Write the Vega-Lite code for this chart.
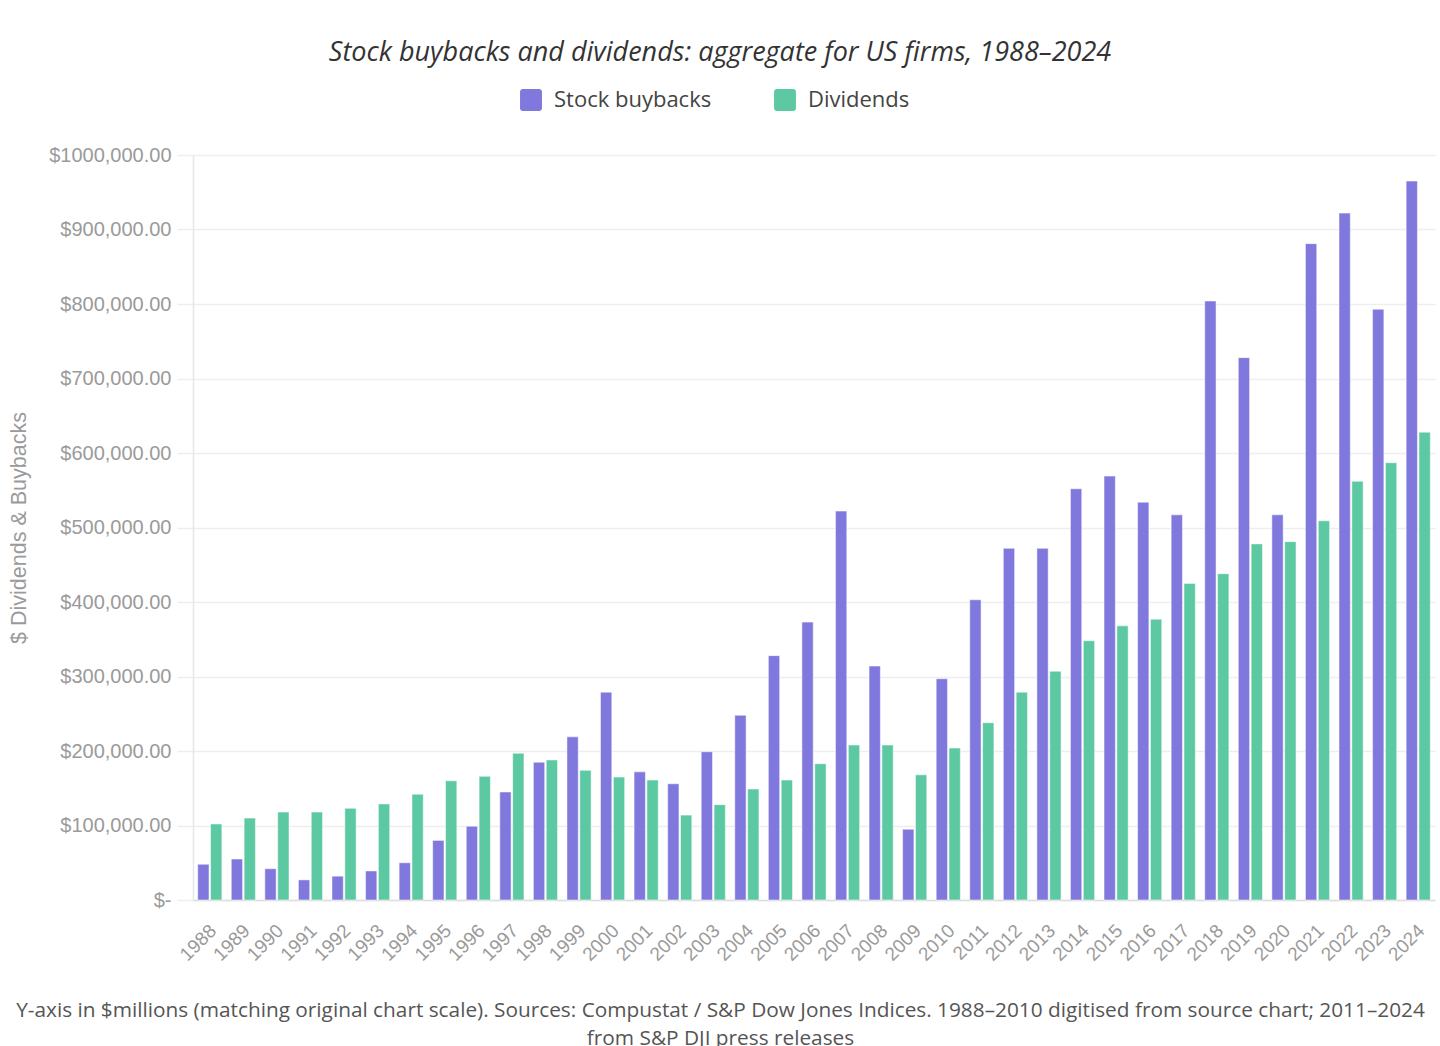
{
  "$schema": "https://vega.github.io/schema/vega-lite/v6.json",
  "description": "Stock buybacks and dividends, aggregate for US firms 1988-2024",
  "autosize": {"type": "none"},
  "width": 1242,
  "height": 745,
  "padding": {"left": 193, "top": 155, "right": 5, "bottom": 146},
  "background": "#ffffff",
  "config": {"view": {"stroke": null}},
  "title": {
    "text": "Stock buybacks and dividends: aggregate for US firms, 1988–2024",
    "font": "Open Sans",
    "fontSize": 27,
    "fontStyle": "italic",
    "fontWeight": "normal",
    "color": "#333333",
    "anchor": "middle",
    "frame": "group",
    "dx": -94,
    "offset": 22
  },
  "data": {
    "values": [
      {"year": "1988", "series": "Stock buybacks", "value": 48000},
      {"year": "1988", "series": "Dividends", "value": 102000},
      {"year": "1989", "series": "Stock buybacks", "value": 55000},
      {"year": "1989", "series": "Dividends", "value": 110000},
      {"year": "1990", "series": "Stock buybacks", "value": 42000},
      {"year": "1990", "series": "Dividends", "value": 118000},
      {"year": "1991", "series": "Stock buybacks", "value": 27000},
      {"year": "1991", "series": "Dividends", "value": 118000},
      {"year": "1992", "series": "Stock buybacks", "value": 32000},
      {"year": "1992", "series": "Dividends", "value": 123000},
      {"year": "1993", "series": "Stock buybacks", "value": 39000},
      {"year": "1993", "series": "Dividends", "value": 129000},
      {"year": "1994", "series": "Stock buybacks", "value": 50000},
      {"year": "1994", "series": "Dividends", "value": 142000},
      {"year": "1995", "series": "Stock buybacks", "value": 80000},
      {"year": "1995", "series": "Dividends", "value": 160000},
      {"year": "1996", "series": "Stock buybacks", "value": 99000},
      {"year": "1996", "series": "Dividends", "value": 166000},
      {"year": "1997", "series": "Stock buybacks", "value": 145000},
      {"year": "1997", "series": "Dividends", "value": 197000},
      {"year": "1998", "series": "Stock buybacks", "value": 185000},
      {"year": "1998", "series": "Dividends", "value": 188000},
      {"year": "1999", "series": "Stock buybacks", "value": 219000},
      {"year": "1999", "series": "Dividends", "value": 174000},
      {"year": "2000", "series": "Stock buybacks", "value": 279000},
      {"year": "2000", "series": "Dividends", "value": 165000},
      {"year": "2001", "series": "Stock buybacks", "value": 172000},
      {"year": "2001", "series": "Dividends", "value": 161000},
      {"year": "2002", "series": "Stock buybacks", "value": 156000},
      {"year": "2002", "series": "Dividends", "value": 114000},
      {"year": "2003", "series": "Stock buybacks", "value": 199000},
      {"year": "2003", "series": "Dividends", "value": 128000},
      {"year": "2004", "series": "Stock buybacks", "value": 248000},
      {"year": "2004", "series": "Dividends", "value": 149000},
      {"year": "2005", "series": "Stock buybacks", "value": 328000},
      {"year": "2005", "series": "Dividends", "value": 161000},
      {"year": "2006", "series": "Stock buybacks", "value": 373000},
      {"year": "2006", "series": "Dividends", "value": 183000},
      {"year": "2007", "series": "Stock buybacks", "value": 522000},
      {"year": "2007", "series": "Dividends", "value": 208000},
      {"year": "2008", "series": "Stock buybacks", "value": 314000},
      {"year": "2008", "series": "Dividends", "value": 208000},
      {"year": "2009", "series": "Stock buybacks", "value": 95000},
      {"year": "2009", "series": "Dividends", "value": 168000},
      {"year": "2010", "series": "Stock buybacks", "value": 297000},
      {"year": "2010", "series": "Dividends", "value": 204000},
      {"year": "2011", "series": "Stock buybacks", "value": 403000},
      {"year": "2011", "series": "Dividends", "value": 238000},
      {"year": "2012", "series": "Stock buybacks", "value": 472000},
      {"year": "2012", "series": "Dividends", "value": 279000},
      {"year": "2013", "series": "Stock buybacks", "value": 472000},
      {"year": "2013", "series": "Dividends", "value": 307000},
      {"year": "2014", "series": "Stock buybacks", "value": 552000},
      {"year": "2014", "series": "Dividends", "value": 348000},
      {"year": "2015", "series": "Stock buybacks", "value": 569000},
      {"year": "2015", "series": "Dividends", "value": 368000},
      {"year": "2016", "series": "Stock buybacks", "value": 534000},
      {"year": "2016", "series": "Dividends", "value": 377000},
      {"year": "2017", "series": "Stock buybacks", "value": 517000},
      {"year": "2017", "series": "Dividends", "value": 425000},
      {"year": "2018", "series": "Stock buybacks", "value": 804000},
      {"year": "2018", "series": "Dividends", "value": 438000},
      {"year": "2019", "series": "Stock buybacks", "value": 728000},
      {"year": "2019", "series": "Dividends", "value": 478000},
      {"year": "2020", "series": "Stock buybacks", "value": 517000},
      {"year": "2020", "series": "Dividends", "value": 481000},
      {"year": "2021", "series": "Stock buybacks", "value": 881000},
      {"year": "2021", "series": "Dividends", "value": 509000},
      {"year": "2022", "series": "Stock buybacks", "value": 922000},
      {"year": "2022", "series": "Dividends", "value": 562000},
      {"year": "2023", "series": "Stock buybacks", "value": 793000},
      {"year": "2023", "series": "Dividends", "value": 587000},
      {"year": "2024", "series": "Stock buybacks", "value": 965000},
      {"year": "2024", "series": "Dividends", "value": 628000}
    ]
  },
  "mark": {
    "type": "bar",
    "stroke": "#ffffff",
    "strokeOpacity": 0.5,
    "strokeWidth": 1
  },
  "encoding": {
    "x": {
      "field": "year",
      "type": "ordinal",
      "scale": {"paddingInner": 0.28, "paddingOuter": 0.14},
      "axis": {
        "labelAngle": -45,
        "labelFont": "Liberation Sans",
        "labelFontSize": 19,
        "labelColor": "#9a9a9a",
        "labelPadding": 21,
        "labelOffset": -3,
        "ticks": false,
        "domainColor": "#dddddd",
        "domainWidth": 1.5,
        "title": [
          "Y-axis in $millions (matching original chart scale). Sources: Compustat / S&P Dow Jones Indices. 1988–2010 digitised from source chart; 2011–2024",
          "from S&P DJI press releases"
        ],
        "titleFont": "Open Sans",
        "titleFontSize": 20.8,
        "titleFontWeight": "normal",
        "titleColor": "#555555",
        "titleAnchor": null,
        "titleAlign": "center",
        "titleBaseline": "top",
        "titleX": 527,
        "titleY": 100,
        "titleLineHeight": 28
      }
    },
    "xOffset": {
      "field": "series",
      "type": "nominal",
      "sort": ["Stock buybacks", "Dividends"],
      "scale": {"paddingInner": 0.12}
    },
    "y": {
      "field": "value",
      "type": "quantitative",
      "scale": {"domain": [0, 1000000]},
      "axis": {
        "values": [0, 100000, 200000, 300000, 400000, 500000, 600000, 700000, 800000, 900000, 1000000],
        "labelExpr": "datum.value == 0 ? '$-' : datum.value == 1000000 ? '$1000,000.00' : '$' + format(datum.value, ',.2f')",
        "labelFont": "Liberation Sans",
        "labelFontSize": 20,
        "labelColor": "#9a9a9a",
        "labelPadding": 6,
        "tickColor": "#eeeeee",
        "tickSize": 16,
        "tickWidth": 1.5,
        "gridColor": "#eeeeee",
        "gridWidth": 1.5,
        "domainColor": "#e6e6e6",
        "domainWidth": 1.5,
        "title": "$ Dividends & Buybacks",
        "titleFont": "Liberation Sans",
        "titleFontSize": 21.5,
        "titleFontWeight": "normal",
        "titleColor": "#9a9a9a",
        "titlePadding": 18
      }
    },
    "color": {
      "field": "series",
      "type": "nominal",
      "sort": ["Stock buybacks", "Dividends"],
      "scale": {"domain": ["Stock buybacks", "Dividends"], "range": ["#8078dd", "#5dc9a3"]},
      "legend": {
        "title": null,
        "orient": "none",
        "direction": "horizontal",
        "legendX": 327,
        "legendY": -66,
        "symbolType": "M -0.75 -1 L 0.75 -1 A 0.25 0.25 0 0 1 1 -0.75 L 1 0.75 A 0.25 0.25 0 0 1 0.75 1 L -0.75 1 A 0.25 0.25 0 0 1 -1 0.75 L -1 -0.75 A 0.25 0.25 0 0 1 -0.75 -1 Z",
        "symbolSize": 480,
        "symbolStrokeWidth": 0,
        "symbolOpacity": 1,
        "labelFont": "Open Sans",
        "labelFontSize": 22,
        "labelColor": "#444444",
        "labelOffset": 12,
        "columnPadding": 62,
        "labelLimit": 300
      }
    }
  }
}
